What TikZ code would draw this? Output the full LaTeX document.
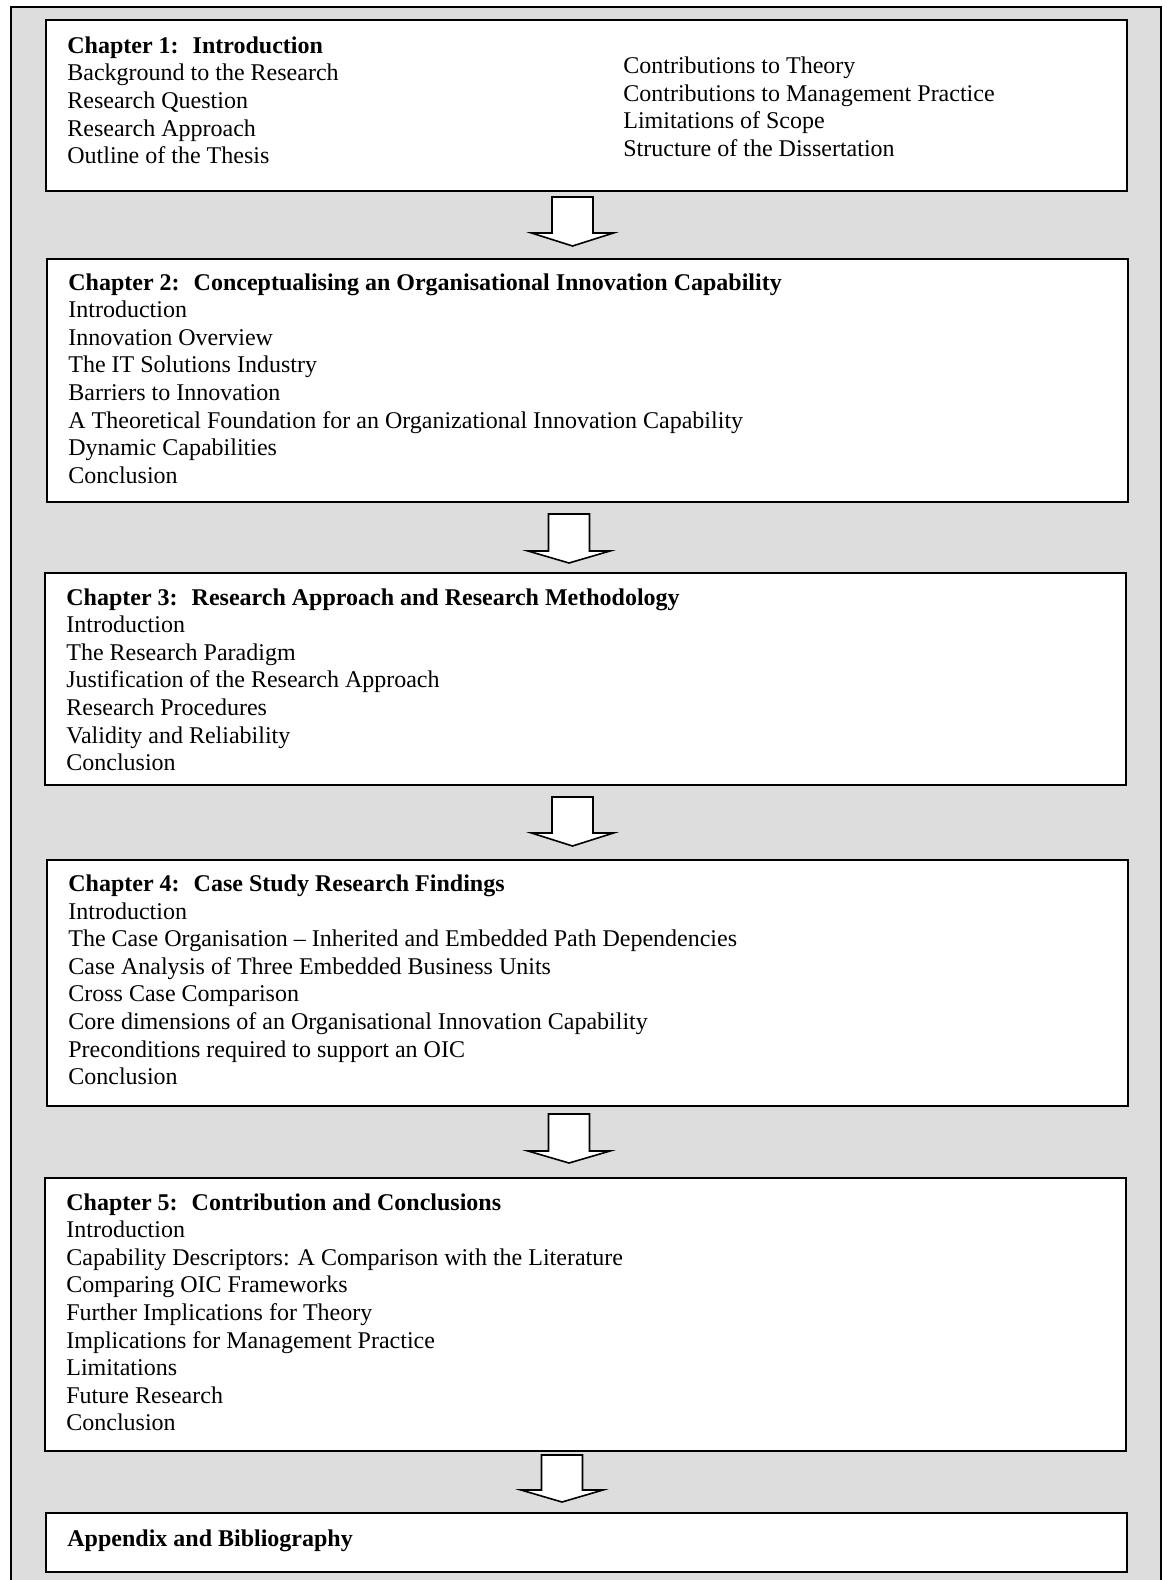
\documentclass[tikz,border=0pt]{standalone}
\usepackage{fontspec}
\setmainfont{Liberation Serif}
\usetikzlibrary{fit}
\definecolor{panelgray}{RGB}{221,221,221}
\tikzset{
  chbox/.style={draw=black, line width=1pt, fill=white, inner sep=0pt},
  txt/.style={inner sep=0pt, anchor=base west, font=\fontsize{12}{13.8}\selectfont},
  ttl/.style={txt, font=\fontsize{12}{13.8}\selectfont\bfseries},
  blockarrow/.style={draw=black, line width=0.8pt, fill=white, line join=miter}
}
% one line per entry, 27.6px apart, starting at the given baseline
\newcommand\entrylines[4]{%
  \foreach \t [count=\i] in {#4} {
    \node[txt] (#1-\i) at (#2,{#3+\i*27.6}) {\t};
  }%
}
% block arrow: centre x, shaft top, head base, tip
\newcommand\downblock[4]{%
  \draw[blockarrow] ({#1-20.5},#2) -- ({#1+20.5},#2) -- ({#1+20.5},#3)
    -- ({#1+41},#3) -- (#1,#4) -- ({#1-41},#3) -- ({#1-20.5},#3) -- cycle;
}
\begin{document}
\begin{tikzpicture}[x=0.5pt,y=-0.5pt]
\useasboundingbox (0,0) rectangle (1167,1580);
\clip (0,0) rectangle (1167,1580);
% grey panel behind everything
\draw[line width=1pt, fill=panelgray] (11,7) rectangle (1161,1600);

% chapter boxes
\node[chbox, fit={(46,20)(1127,191)}] (b1) {};
\node[chbox, fit={(47,259)(1128,502)}] (b2) {};
\node[chbox, fit={(45,573)(1126,785)}] (b3) {};
\node[chbox, fit={(47,860)(1128,1106)}] (b4) {};
\node[chbox, fit={(45,1178)(1126,1451)}] (b5) {};
\node[chbox, fit={(46,1513)(1127,1572)}] (b6) {};

% Chapter 1
\node[ttl] (t1) at (67,53.3) {Chapter 1:~ Introduction};
\entrylines{c1a}{67}{53.3}{Background to the Research,Research Question,Research Approach,Outline of the Thesis}
\entrylines{c1b}{623}{45.8}{Contributions to Theory,Contributions to Management Practice,Limitations of Scope,Structure of the Dissertation}

% Chapter 2
\node[ttl] (t2) at (68,290) {Chapter 2:~ Conceptualising an Organisational Innovation Capability};
\entrylines{c2}{68}{290}{Introduction,Innovation Overview,The IT Solutions Industry,Barriers to Innovation,A Theoretical Foundation for an Organizational Innovation Capability,Dynamic Capabilities,Conclusion}

% Chapter 3
\node[ttl] (t3) at (66,605) {Chapter 3:~ Research Approach and Research Methodology};
\entrylines{c3}{66}{605}{Introduction,The Research Paradigm,Justification of the Research Approach,Research Procedures,Validity and Reliability,Conclusion}

% Chapter 4
\node[ttl] (t4) at (68,891.5) {Chapter 4:~ Case Study Research Findings};
\entrylines{c4}{68}{891.5}{Introduction,The Case Organisation -- Inherited and Embedded Path Dependencies,Case Analysis of Three Embedded Business Units,Cross Case Comparison,Core dimensions of an Organisational Innovation Capability,Preconditions required to support an OIC,Conclusion}

% Chapter 5
\node[ttl] (t5) at (66,1210) {Chapter 5:~ Contribution and Conclusions};
\entrylines{c5}{66}{1210}{Introduction,Capability Descriptors: A Comparison with the Literature,Comparing OIC Frameworks,Further Implications for Theory,Implications for Management Practice,Limitations,Future Research,Conclusion}

% Back matter
\node[ttl] (t6) at (67,1546.5) {Appendix and Bibliography};

% arrows between the boxes
\downblock{572.5}{197}{233}{246}
\downblock{569}{514}{551}{563}
\downblock{572.5}{797}{833}{846}
\downblock{569}{1114}{1151}{1163}
\downblock{562}{1455}{1490}{1502}
\end{tikzpicture}
\end{document}
